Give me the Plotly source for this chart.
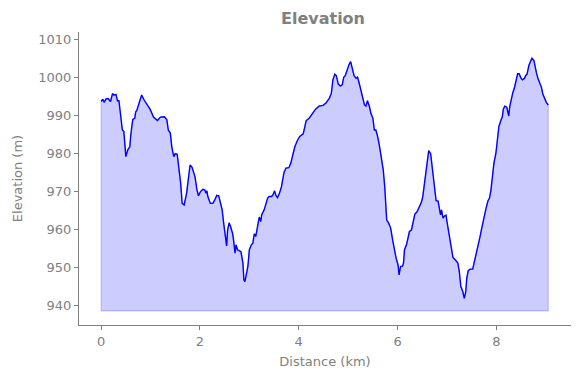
import plotly.graph_objects as go

distance_km = [
    0.00, 0.034, 0.06, 0.10, 0.14, 0.19, 0.23, 0.26, 0.30, 0.33, 0.36, 0.40, 0.43, 0.46, 0.50,
    0.54, 0.58, 0.60, 0.64, 0.68, 0.70, 0.72, 0.76, 0.78, 0.82, 0.87, 0.94, 0.99, 1.06, 1.14,
    1.20, 1.28, 1.33, 1.36, 1.40, 1.43, 1.47, 1.50, 1.54, 1.58, 1.61, 1.64, 1.68, 1.73, 1.76,
    1.80, 1.84, 1.88, 1.90, 1.94, 1.97, 2.01, 2.06, 2.10, 2.12, 2.14, 2.16, 2.21, 2.26, 2.30,
    2.34, 2.38, 2.41, 2.45, 2.48, 2.51, 2.54, 2.56, 2.59, 2.62, 2.66, 2.68, 2.71, 2.73, 2.76,
    2.80, 2.83, 2.87, 2.89, 2.91, 2.95, 2.97, 3.00, 3.04, 3.07, 3.10, 3.13, 3.17, 3.20, 3.23,
    3.25, 3.30, 3.33, 3.37, 3.40, 3.45, 3.48, 3.51, 3.54, 3.57, 3.61, 3.65, 3.70, 3.74, 3.80,
    3.84, 3.88, 3.92, 3.97, 4.02, 4.09, 4.12, 4.15, 4.21, 4.27, 4.34, 4.41, 4.49, 4.55, 4.62,
    4.66, 4.69, 4.73, 4.76, 4.80, 4.84, 4.88, 4.91, 4.94, 4.99, 5.02, 5.05, 5.08, 5.10, 5.12,
    5.16, 5.19, 5.22, 5.26, 5.30, 5.33, 5.36, 5.39, 5.43, 5.46, 5.50, 5.53, 5.56, 5.59, 5.63,
    5.67, 5.71, 5.74, 5.78, 5.82, 5.86, 5.90, 5.93, 5.97, 6.01, 6.03, 6.06, 6.10, 6.12, 6.14,
    6.18, 6.21, 6.24, 6.28, 6.31, 6.35, 6.39, 6.43, 6.48, 6.51, 6.55, 6.58, 6.61, 6.63, 6.67,
    6.69, 6.72, 6.75, 6.78, 6.82, 6.85, 6.87, 6.89, 6.92, 6.95, 6.98, 7.00, 7.03, 7.06, 7.09,
    7.12, 7.17, 7.22, 7.25, 7.28, 7.32, 7.35, 7.38, 7.40, 7.43, 7.47, 7.52, 7.55, 7.59, 7.63,
    7.67, 7.71, 7.75, 7.79, 7.83, 7.86, 7.89, 7.92, 7.95, 7.99, 8.02, 8.05, 8.09, 8.12, 8.14,
    8.17, 8.21, 8.23, 8.25, 8.27, 8.30, 8.33, 8.37, 8.40, 8.43, 8.46, 8.50, 8.53, 8.57, 8.59,
    8.62, 8.66, 8.69, 8.72, 8.76, 8.78, 8.81, 8.84, 8.88, 8.91, 8.94, 8.97, 9.01, 9.05,
]

elevation_m = [
    993.6, 994.2, 993.4, 994.3, 994.4, 993.6, 995.7, 995.3, 995.5, 993.8, 993.8, 990.1, 986.1, 985.7, 979.1,
    980.9, 981.7, 984.8, 988.9, 989.2, 990.9, 991.2, 992.7, 993.2, 995.3, 994.0, 992.7, 991.6, 989.5, 988.6,
    989.5, 989.6, 988.8, 986.1, 985.3, 981.7, 979.1, 979.9, 979.7, 975.6, 972.1, 966.8, 966.4, 969.5, 972.5,
    976.9, 976.3, 974.3, 973.8, 970.3, 968.8, 969.9, 970.5, 970.3, 969.5, 970.1, 968.6, 966.8, 966.8, 967.7,
    968.9, 968.8, 967.3, 965.1, 961.6, 957.6, 955.6, 959.8, 961.7, 960.7, 958.9, 957.2, 953.7, 955.9, 954.6,
    954.3, 954.1, 951.1, 946.7, 946.2, 949.3, 950.2, 954.6, 955.9, 956.3, 958.8, 958.1, 960.7, 963.2, 962.0,
    963.8, 965.1, 966.8, 968.2, 968.6, 968.6, 969.1, 970.1, 968.8, 968.3, 969.5, 971.2, 974.9, 976.1, 976.2,
    977.4, 979.6, 981.7, 983.3, 984.4, 985.1, 987.4, 988.6, 989.2, 990.3, 991.6, 992.4, 992.6, 993.2, 994.5,
    995.8, 999.3, 1000.8, 1000.4, 998.2, 997.7, 998.0, 1000.0, 1000.4, 1002.4, 1003.4, 1004.1, 1002.8, 1001.5, 1000.4,
    999.7, 1000.0, 998.6, 996.5, 994.0, 992.7, 992.4, 993.8, 992.3, 990.5, 989.2, 986.1, 986.1, 984.8, 982.2,
    979.1, 975.6, 971.2, 962.4, 961.6, 960.3, 957.2, 954.6, 952.4, 950.6, 948.0, 950.2, 950.3, 951.1, 954.6,
    955.9, 958.1, 959.4, 959.8, 961.6, 964.0, 964.5, 965.8, 967.0, 968.6, 972.5, 975.6, 978.7, 980.7, 979.8,
    977.8, 974.7, 971.2, 967.5, 967.4, 965.1, 963.8, 965.1, 962.9, 963.5, 963.7, 962.0, 959.8, 957.2, 954.6,
    952.6, 951.9, 951.1, 948.8, 944.9, 943.6, 941.8, 943.6, 947.1, 949.1, 949.5, 949.5, 951.1, 953.1, 955.4,
    958.1, 960.7, 963.3, 965.5, 967.5, 968.2, 970.3, 974.7, 977.4, 980.0, 983.5, 987.0, 988.6, 989.6, 991.6,
    992.4, 992.1, 990.5, 989.8, 992.3, 994.5, 995.8, 997.5, 999.3, 1000.9, 1000.9, 999.7, 999.3, 999.7, 1000.4,
    1000.8, 1003.2, 1004.1, 1005.0, 1004.4, 1002.8, 1001.2, 999.7, 998.4, 997.4, 995.6, 994.5, 993.4, 992.7,
]

fill_base_m = 938.5
x_ticks = [0, 2, 4, 6, 8]
y_ticks = [940, 950, 960, 970, 980, 990, 1000, 1010]

GRAY = "#808080"
FONT = "DejaVu Sans"

fig = go.Figure()

# filled area (polygon down to the base level)
poly_x = distance_km + [distance_km[-1], distance_km[0], distance_km[0]]
poly_y = elevation_m + [fill_base_m, fill_base_m, elevation_m[0]]
fig.add_trace(go.Scatter(
    x=poly_x, y=poly_y, mode="lines", fill="toself",
    fillcolor="rgba(0,0,255,0.2)",
    line=dict(color="rgba(0,0,255,0.2)", width=1.2),
    hoverinfo="skip", showlegend=False,
))

fig.add_trace(go.Scatter(
    x=distance_km, y=elevation_m, mode="lines",
    line=dict(color="#0000ff", width=1.4),
    showlegend=False,
))

# The page body keeps its default 8px margin, so the figure is 8px smaller
# and its margins are shifted accordingly.
fig.update_layout(
    width=572, height=370,
    margin=dict(l=67, r=9, t=24, b=53),
    paper_bgcolor="white", plot_bgcolor="white",
    font=dict(family=FONT, size=13, color=GRAY),
    title=dict(text="<b>Elevation</b>", x=315 / 572, xanchor="center",
               y=1 - 10 / 370, yanchor="middle",
               font=dict(family=FONT, size=16, color=GRAY)),
    xaxis=dict(
        range=[-0.448, 9.51], tickvals=x_ticks, ticktext=[str(v) for v in x_ticks],
        showgrid=False, zeroline=False, showline=True, linecolor=GRAY, linewidth=1,
        ticks="outside", ticklen=4, tickcolor=GRAY, tickwidth=1,
        title=dict(text="Distance (km)", standoff=9, font=dict(size=13, color=GRAY)),
        tickfont=dict(size=13, color=GRAY),
    ),
    yaxis=dict(
        range=[934.8, 1011.9], tickvals=y_ticks, ticktext=[str(v) for v in y_ticks],
        showgrid=False, zeroline=False, showline=True, linecolor=GRAY, linewidth=1,
        ticks="outside", ticklen=4, tickcolor=GRAY, tickwidth=1,
        title=dict(text="Elevation (m)", standoff=12, font=dict(size=13, color=GRAY)),
        tickfont=dict(size=13, color=GRAY),
    ),
)

fig.write_html("out.html")
